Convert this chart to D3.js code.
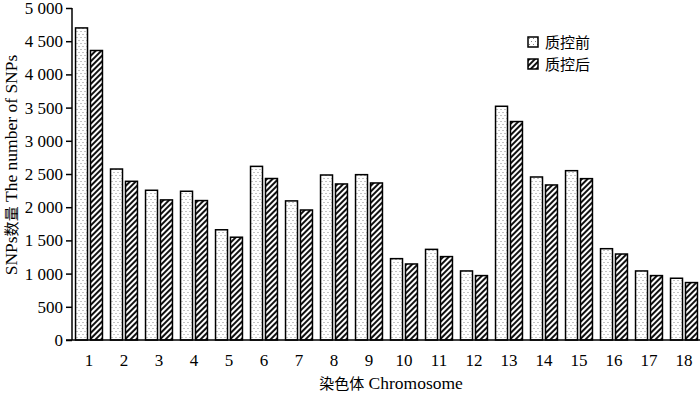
<!DOCTYPE html>
<html>
<head>
<meta charset="utf-8">
<script src="https://cdn.jsdelivr.net/npm/d3@7"></script>
<style>
  body { margin: 0; background: #fff; }
  svg { display: block; }
  text { font-family: "Liberation Serif", "Noto Sans CJK SC", serif; fill: #000; }
</style>
</head>
<body>
<div id="chart"></div>
<script>
// chromosome ids and SNP counts before / after quality control
const chromosomes = ["1","2","3","4","5","6","7","8","9","10","11","12","13","14","15","16","17","18"];
const beforeQC = [4700, 2575, 2255, 2240, 1660, 2615, 2095, 2485, 2490, 1225, 1365, 1040, 3520, 2455, 2550, 1375, 1040, 930];
const afterQC  = [4360, 2390, 2110, 2100, 1548, 2432, 1958, 2350, 2365, 1145, 1256, 970, 3290, 2335, 2430, 1295, 970, 865];
const seriesNames = ["质控前", "质控后"];
const yTicks = [0, 500, 1000, 1500, 2000, 2500, 3000, 3500, 4000, 4500, 5000];

const width = 700, height = 397;
const svg = d3.select("#chart").append("svg").attr("width", width).attr("height", height);

// fill patterns
let defs = svg.append("defs");
let dots = defs.append("pattern").attr("id", "dots")
    .attr("patternUnits", "userSpaceOnUse").attr("width", 4).attr("height", 6);
dots.append("rect").attr("width", 4).attr("height", 6).attr("fill", "#fff");
dots.append("rect").attr("x", 1).attr("y", 1).attr("width", 1).attr("height", 1).attr("fill", "#888");
dots.append("rect").attr("x", 3).attr("y", 4).attr("width", 1).attr("height", 1).attr("fill", "#888");

let hatch = defs.append("pattern").attr("id", "hatch")
    .attr("patternUnits", "userSpaceOnUse").attr("width", 4).attr("height", 4)
    .attr("patternTransform", "rotate(45)");
hatch.append("rect").attr("width", 4).attr("height", 4).attr("fill", "#fff");
hatch.append("rect").attr("width", 2).attr("height", 4).attr("fill", "#111");

const fills = ["url(#dots)", "url(#hatch)"];

let x = d3.scaleBand().domain(chromosomes).range([71.5, 701.5]);
let xSub = d3.scaleBand().domain(seriesNames).range([0, x.bandwidth()])
    .paddingInner(0.2).paddingOuter(0.27);
let y = d3.scaleLinear().domain([0, 5000]).range([340, 8]);

const locale = d3.formatLocale({decimal: ".", thousands: " ", grouping: [3], currency: ["", ""]});
const fmt = locale.format(",");

// bars
let rows = chromosomes.map((c, i) => ({chr: c, vals: [beforeQC[i], afterQC[i]]}));
let groups = svg.selectAll("g.grp").data(rows).enter().append("g")
    .attr("class", "grp")
    .attr("transform", d => `translate(${x(d.chr)},0)`);
groups.selectAll("rect")
    .data(d => d.vals.map((v, k) => ({name: seriesNames[k], value: v, k: k})))
    .enter().append("rect")
    .attr("x", d => xSub(d.name))
    .attr("y", d => y(d.value))
    .attr("width", xSub.bandwidth())
    .attr("height", d => y(0) - y(d.value))
    .attr("fill", d => fills[d.k])
    .attr("stroke", "#000")
    .attr("stroke-width", 1.5);

// y axis
let yAxis = svg.append("g").attr("transform", "translate(72,0)")
    .call(d3.axisLeft(y).tickValues(yTicks).tickFormat(fmt).tickSize(6).tickPadding(3));
yAxis.select(".domain").attr("stroke", "#000").attr("stroke-width", 1.5).attr("d", "M0,340V8");
yAxis.selectAll(".tick line").attr("stroke", "#000").attr("stroke-width", 1.5);
yAxis.selectAll("text").style("font-size", "17px").attr("fill", "#000");

// x axis
let xAxis = svg.append("g").attr("transform", "translate(0,340)")
    .call(d3.axisBottom(x).tickSize(0).tickPadding(14));
xAxis.select(".domain").attr("stroke", "#000").attr("stroke-width", 1.5).attr("d", "M66,0H700");
xAxis.selectAll("text").style("font-size", "17px").attr("fill", "#000");

// axis titles (Chinese parts a little smaller, like the original)
let yTitle = svg.append("text")
    .attr("transform", "translate(17,165) rotate(-90)")
    .attr("text-anchor", "middle")
    .style("font-size", "17.5px");
yTitle.append("tspan").text("SNPs");
yTitle.append("tspan").style("font-size", "15px").text("数量");
yTitle.append("tspan").text(" The number of  SNPs");

let xTitle = svg.append("text")
    .attr("x", 391).attr("y", 389)
    .attr("text-anchor", "middle")
    .style("font-size", "17.5px");
xTitle.append("tspan").style("font-size", "15px").text("染色体");
xTitle.append("tspan").text(" Chromosome");

// legend
let legend = svg.selectAll("g.leg").data(seriesNames).enter().append("g")
    .attr("class", "leg")
    .attr("transform", (d, i) => `translate(528,${37 + i * 22})`);
legend.append("rect")
    .attr("width", 10).attr("height", 10)
    .attr("fill", (d, i) => fills[i])
    .attr("stroke", "#000").attr("stroke-width", 1.5);
legend.append("text")
    .attr("x", 17).attr("y", 11)
    .style("font-size", "15px")
    .text(d => d);
</script>
</body>
</html>
